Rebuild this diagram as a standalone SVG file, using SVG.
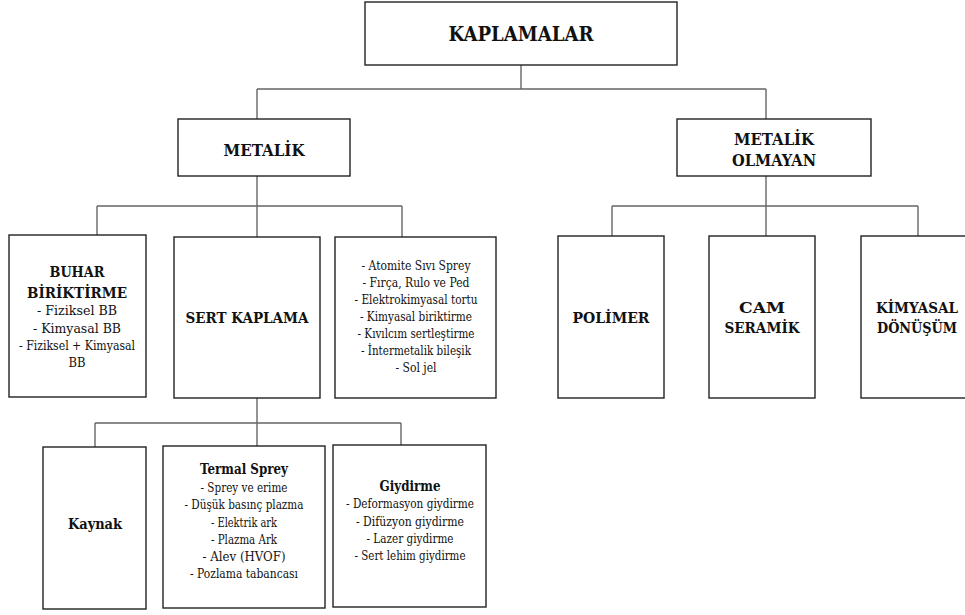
<svg xmlns="http://www.w3.org/2000/svg" width="965" height="615" viewBox="0 0 965 615" font-family="DejaVu Serif, serif">
<style>
.box{fill:#fff;stroke:#222;stroke-width:1.4}
.con{fill:none;stroke:#666;stroke-width:1.4}
text{fill:#111;text-anchor:middle}
.h{font-weight:bold;font-size:15px}
.t{font-size:12px}
</style>
<rect width="965" height="615" fill="#fff"/>
<g id="connectors">
<path class="con" d="M521 65V89M257 89H766M257 89V119M766 89V119"/>
<path class="con" d="M257 176V206M97 206H402M97 206V236M257 206V237M402 206V237"/>
<path class="con" d="M766 176V206M612 206H918M612 206V236M766 206V236M918 206V236"/>
<path class="con" d="M257 398V423M95 423H401M95 423V447M257 423V446M401 423V445"/>
</g>
<g id="kaplamalar"><rect class="box" x="365" y="2" width="312" height="63"/><text x="521" y="41" class="h" style="font-size:20px" textLength="145" lengthAdjust="spacingAndGlyphs">KAPLAMALAR</text></g>
<g id="metalik"><rect class="box" x="178" y="119" width="172" height="57"/><text x="264" y="156" class="h" style="font-size:17px" textLength="81" lengthAdjust="spacingAndGlyphs">METALİK</text></g>
<g id="metalik-olmayan"><rect class="box" x="677" y="119" width="194" height="57"/><text x="774" y="145" class="h" style="font-size:16px" textLength="80" lengthAdjust="spacingAndGlyphs">METALİK</text><text x="774" y="166" class="h" style="font-size:16px" textLength="84" lengthAdjust="spacingAndGlyphs">OLMAYAN</text></g>
<g id="buhar"><rect class="box" x="9" y="235" width="137" height="162"/>
<text x="77" y="277" class="h" textLength="55" lengthAdjust="spacingAndGlyphs">BUHAR</text><text x="77" y="298" class="h" textLength="100" lengthAdjust="spacingAndGlyphs">BİRİKTİRME</text>
<text x="77" y="315" class="t" textLength="80" lengthAdjust="spacingAndGlyphs">- Fiziksel  BB</text>
<text x="77" y="333" class="t" textLength="88" lengthAdjust="spacingAndGlyphs">- Kimyasal  BB</text>
<text x="77" y="350" class="t" textLength="116" lengthAdjust="spacingAndGlyphs">- Fiziksel  + Kimyasal</text>
<text x="77" y="367" class="t" textLength="17" lengthAdjust="spacingAndGlyphs">BB</text></g>
<g id="sert-kaplama"><rect class="box" x="174" y="237" width="146" height="161"/><text x="247" y="323" class="h" textLength="123" lengthAdjust="spacingAndGlyphs">SERT KAPLAMA</text></g>
<g id="diger"><rect class="box" x="335" y="237" width="161" height="161"/>
<text x="416" y="270" class="t" textLength="109" lengthAdjust="spacingAndGlyphs">- Atomite  Sıvı  Sprey</text>
<text x="416" y="287" class="t" textLength="107" lengthAdjust="spacingAndGlyphs">- Fırça, Rulo  ve  Ped</text>
<text x="416" y="304" class="t" textLength="123" lengthAdjust="spacingAndGlyphs">- Elektrokimyasal  tortu</text>
<text x="416" y="321" class="t" textLength="112" lengthAdjust="spacingAndGlyphs">- Kimyasal  biriktirme</text>
<text x="416" y="338" class="t" textLength="117" lengthAdjust="spacingAndGlyphs">- Kıvılcım  sertleştirme</text>
<text x="416" y="355" class="t" textLength="110" lengthAdjust="spacingAndGlyphs">- İntermetalik  bileşik</text>
<text x="416" y="372" class="t" textLength="41" lengthAdjust="spacingAndGlyphs">- Sol jel</text></g>
<g id="polimer"><rect class="box" x="558" y="236" width="106" height="162"/><text x="611" y="323" class="h" textLength="77" lengthAdjust="spacingAndGlyphs">POLİMER</text></g>
<g id="cam-seramik"><rect class="box" x="709" y="236" width="106" height="162"/><text x="762" y="313" class="h" textLength="46" lengthAdjust="spacingAndGlyphs">CAM</text><text x="762" y="333" class="h" textLength="75" lengthAdjust="spacingAndGlyphs">SERAMİK</text></g>
<g id="kimyasal-donusum"><rect class="box" x="861" y="236" width="105" height="162"/><text x="917" y="313" class="h" textLength="82" lengthAdjust="spacingAndGlyphs">KİMYASAL</text><text x="917" y="333" class="h" textLength="80" lengthAdjust="spacingAndGlyphs">DÖNÜŞÜM</text></g>
<g id="kaynak"><rect class="box" x="43" y="447" width="103" height="162"/><text x="95" y="529" class="h" textLength="54" lengthAdjust="spacingAndGlyphs">Kaynak</text></g>
<g id="termal-sprey"><rect class="box" x="163" y="446" width="162" height="162"/>
<text x="244" y="474" class="h" textLength="88" lengthAdjust="spacingAndGlyphs">Termal Sprey</text>
<text x="244" y="492" class="t" textLength="87" lengthAdjust="spacingAndGlyphs">- Sprey  ve  erime</text>
<text x="244" y="509" class="t" textLength="119" lengthAdjust="spacingAndGlyphs">- Düşük  basınç  plazma</text>
<text x="244" y="527" class="t" textLength="66" lengthAdjust="spacingAndGlyphs">- Elektrik  ark</text>
<text x="244" y="544" class="t" textLength="66" lengthAdjust="spacingAndGlyphs">- Plazma  Ark</text>
<text x="244" y="561" class="t" textLength="83" lengthAdjust="spacingAndGlyphs">- Alev  (HVOF)</text>
<text x="244" y="578" class="t" textLength="108" lengthAdjust="spacingAndGlyphs">- Pozlama  tabancası</text></g>
<g id="giydirme"><rect class="box" x="333" y="445" width="153" height="162"/>
<text x="410" y="491" class="h" textLength="61" lengthAdjust="spacingAndGlyphs">Giydirme</text>
<text x="410" y="508" class="t" textLength="128" lengthAdjust="spacingAndGlyphs">- Deformasyon  giydirme</text>
<text x="410" y="526" class="t" textLength="108" lengthAdjust="spacingAndGlyphs">- Difüzyon  giydirme</text>
<text x="410" y="543" class="t" textLength="87" lengthAdjust="spacingAndGlyphs">- Lazer  giydirme</text>
<text x="410" y="560" class="t" textLength="111" lengthAdjust="spacingAndGlyphs">- Sert lehim  giydirme</text></g>
</svg>
